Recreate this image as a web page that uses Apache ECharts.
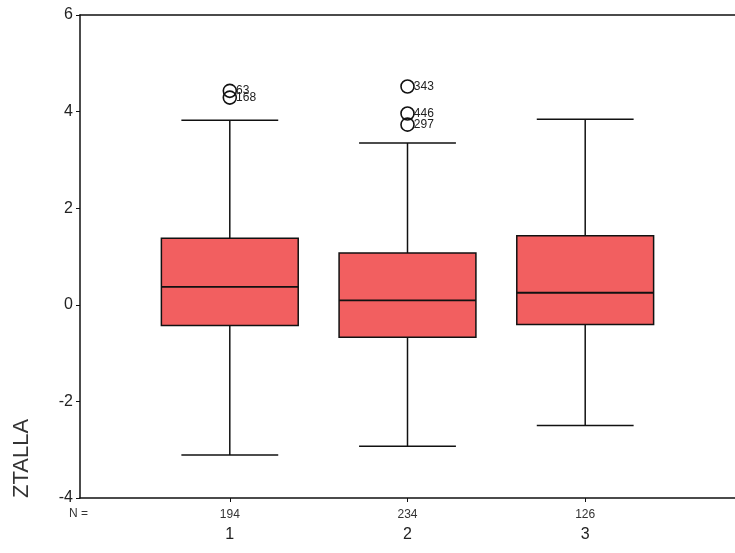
<!DOCTYPE html>
<html>
<head>
<meta charset="utf-8">
<script src="https://cdn.jsdelivr.net/npm/echarts@6/dist/echarts.min.js"></script>
<style>html,body{margin:0;padding:0;background:#fff}#c{width:735px;height:553px}</style>
</head>
<body>
<div id="c"></div>
<script>
// Data
const categories = ['1', '2', '3'];
const groupN = [194, 234, 126];
// [whisker low, Q1, median, Q3, whisker high]
const boxValues = [
  [-3.11, -0.43, 0.37, 1.38, 3.82],
  [-2.93, -0.67, 0.09, 1.07, 3.35],
  [-2.50, -0.41, 0.25, 1.43, 3.84]
];
// outliers: [group index, value, case id]
const outlierGroup = [0, 0, 1, 1, 1];
const outlierValue = [4.43, 4.29, 4.52, 3.96, 3.73];
const outlierId = ['63', '168', '343', '446', '297'];
const yTicks = [-4, -2, 0, 2, 4, 6];

const FONT = 'Liberation Sans, Arial, sans-serif';
const chart = echarts.init(document.getElementById('c'));

const catPos = categories.map((c, i) => i + 1);
const boxData = boxValues.map((b, i) => [catPos[i]].concat(b));
const outData = outlierValue.map((v, i) => ({ value: [catPos[outlierGroup[i]], v], id: outlierId[i] }));

const option = {
  backgroundColor: '#fff',
  animation: false,
  grid: { left: 80, right: 0, top: 15, bottom: 55 },
  xAxis: [{
    type: 'value', min: 0.157, max: 3.843, position: 'bottom',
    axisLine: { show: true, onZero: false, lineStyle: { color: '#111', width: 1.5 } },
    axisTick: { show: true, customValues: catPos, length: 4, lineStyle: { color: '#111' } },
    splitLine: { show: false },
    axisLabel: {
      customValues: catPos, margin: 10, color: '#222', fontFamily: FONT,
      formatter: function (v) {
        const i = Math.round(v) - 1;
        return '{n|' + groupN[i] + '}\n{c|' + categories[i] + '}';
      },
      rich: {
        n: { fontSize: 12, lineHeight: 14, fontFamily: FONT, color: '#333' },
        c: { fontSize: 16, lineHeight: 26, fontFamily: FONT, color: '#222' }
      }
    }
  }, {
    type: 'value', min: 0.157, max: 3.843, position: 'top',
    axisLine: { show: true, onZero: false, lineStyle: { color: '#111', width: 1.5 } },
    axisTick: { show: false }, axisLabel: { show: false }, splitLine: { show: false }
  }],
  yAxis: {
    type: 'value', min: -4, max: 6, interval: 2,
    axisLine: { show: true, onZero: false, lineStyle: { color: '#111', width: 1.5 } },
    axisTick: { show: true, length: 4, lineStyle: { color: '#111' } },
    splitLine: { show: false },
    axisLabel: { fontSize: 16, color: '#222', fontFamily: FONT, margin: 7,
      formatter: function (v) { return yTicks.indexOf(v) >= 0 ? String(v) : ''; } }
  },
  graphic: [
    { type: 'text', left: 69, top: 508, style: { text: 'N =', fontSize: 12, fontFamily: FONT, fill: '#333' } },
    { type: 'text', x: 33, y: 498, rotation: Math.PI / 2,
      style: { text: 'ZTALLA', fontSize: 22, fontFamily: FONT, fill: '#333', align: 'left', verticalAlign: 'bottom' } }
  ],
  series: [{
    type: 'custom',
    data: boxData,
    encode: { x: 0, y: [1, 2, 3, 4, 5] },
    renderItem: function (params, api) {
      const x = api.value(0);
      const lo = api.coord([x, api.value(1)]);
      const q1 = api.coord([x, api.value(2)]);
      const md = api.coord([x, api.value(3)]);
      const q3 = api.coord([x, api.value(4)]);
      const hi = api.coord([x, api.value(5)]);
      const bw = api.size([0.77, 0])[0];
      const cw = api.size([0.545, 0])[0];
      const cx = lo[0];
      const ls = { stroke: '#111', lineWidth: 1.5 };
      return {
        type: 'group',
        children: [
          { type: 'line', shape: { x1: cx, y1: q3[1], x2: cx, y2: hi[1] }, style: ls },
          { type: 'line', shape: { x1: cx, y1: q1[1], x2: cx, y2: lo[1] }, style: ls },
          { type: 'line', shape: { x1: cx - cw / 2, y1: hi[1], x2: cx + cw / 2, y2: hi[1] }, style: ls },
          { type: 'line', shape: { x1: cx - cw / 2, y1: lo[1], x2: cx + cw / 2, y2: lo[1] }, style: ls },
          { type: 'rect', shape: { x: cx - bw / 2, y: q3[1], width: bw, height: q1[1] - q3[1] },
            style: { fill: '#f25f60', stroke: '#111', lineWidth: 1.5 } },
          { type: 'line', shape: { x1: cx - bw / 2, y1: md[1], x2: cx + bw / 2, y2: md[1] }, style: { stroke: '#111', lineWidth: 1.8 } }
        ]
      };
    }
  }, {
    type: 'scatter',
    data: outData,
    symbol: 'circle', symbolSize: 13,
    itemStyle: { color: 'rgba(255,255,255,0)', borderColor: '#111', borderWidth: 1.6, opacity: 1 },
    label: { show: true, position: 'right', distance: -1, fontSize: 12, fontFamily: FONT, color: '#222',
      formatter: function (p) { return p.data.id; } }
  }]
};
chart.setOption(option);
</script>
</body>
</html>
